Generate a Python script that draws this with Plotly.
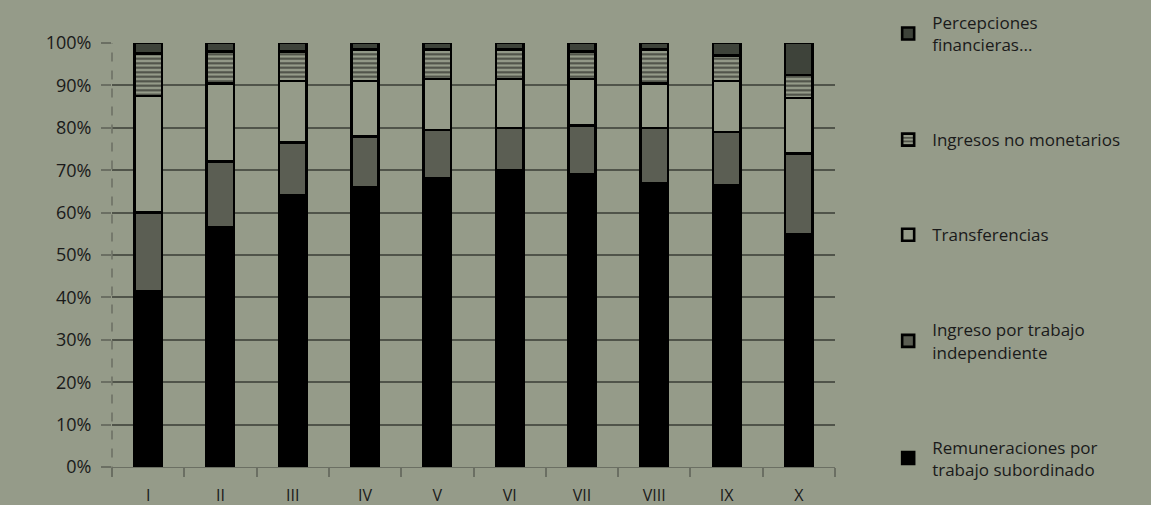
import plotly.graph_objects as go

deciles = ['I', 'II', 'III', 'IV', 'V', 'VI', 'VII', 'VIII', 'IX', 'X']

remuneraciones = [41.5, 56.5, 64, 66, 68, 70, 69, 67, 66.5, 55]
independiente = [18.5, 15.5, 12.5, 12, 11.5, 10, 11.5, 13, 12.5, 19]
transferencias = [27.5, 18.5, 14.5, 13, 12, 11.5, 11, 10.5, 12, 13]
no_monetarios = [10, 7.5, 7, 7.5, 7, 7, 6.5, 8, 6, 5.5]
financieras = [2.5, 2, 2, 1.5, 1.5, 1.5, 2, 1.5, 3, 7.5]

bg = '#959b89'
font = 'Open Sans, Noto Sans, sans-serif'
edge = dict(color='#000', width=2.6)

fig = go.Figure()
fig.add_trace(go.Bar(x=deciles, y=remuneraciones, name='Remuneraciones por<br>trabajo subordinado',
                     legendgroup='a', legendrank=5, marker=dict(color='#000000', line=edge)))
fig.add_trace(go.Bar(x=deciles, y=independiente, name='Ingreso por trabajo<br>independiente',
                     legendgroup='b', legendrank=4, marker=dict(color='#5b5e53', line=edge)))
fig.add_trace(go.Bar(x=deciles, y=transferencias, name='Transferencias',
                     legendgroup='c', legendrank=3, marker=dict(color=bg, line=edge)))
fig.add_trace(go.Bar(x=deciles, y=no_monetarios, name='Ingresos no monetarios',
                     legendgroup='d', legendrank=2,
                     marker=dict(color=bg, line=edge,
                                 pattern=dict(shape='-', fgcolor='#000', bgcolor=bg,
                                              size=4.5, solidity=0.45))))
fig.add_trace(go.Bar(x=deciles, y=financieras, name='Percepciones<br>financieras...',
                     legendgroup='e', legendrank=1, marker=dict(color='#3e433a', line=edge)))

# dashed left axis line
fig.add_shape(type='line', xref='paper', yref='paper', x0=0, x1=0, y0=-0.02, y1=1,
              line=dict(color='#6b6f63', width=1.5, dash='dash'))

fig.update_xaxes(showline=True, linecolor='#6b6f63', linewidth=1.2, ticks='outside', tickson='boundaries',
                 ticklen=9, tickcolor='#6b6f63', tickwidth=1.5, ticklabelstandoff=14,
                 tickfont=dict(size=16, color='#1a1a1a'))
fig.update_yaxes(range=[0, 100], dtick=10, ticksuffix='%', showgrid=True, gridcolor='#50544a', gridwidth=2,
                 ticks='outside', ticklen=10, tickcolor='#6b6f63', tickwidth=1.5, zeroline=False,
                 ticklabelstandoff=6, tickfont=dict(size=18, color='#1a1a1a'))
fig.update_layout(barmode='stack', bargap=0.62, width=1151, height=505,
                  margin=dict(l=112, r=316, t=43, b=38, autoexpand=False),
                  plot_bgcolor=bg, paper_bgcolor=bg, font=dict(family=font, color='#1a1a1a'),
                  legend=dict(x=1.068, y=1.09, xanchor='left', yanchor='top', itemwidth=38,
                              traceorder='grouped', tracegroupgap=70, maxheight=500,
                              font=dict(size=17), bgcolor='rgba(0,0,0,0)'),
                  )
fig.write_html('out.html', config={'displayModeBar': False},
               post_script="document.body.style.margin='0';")
